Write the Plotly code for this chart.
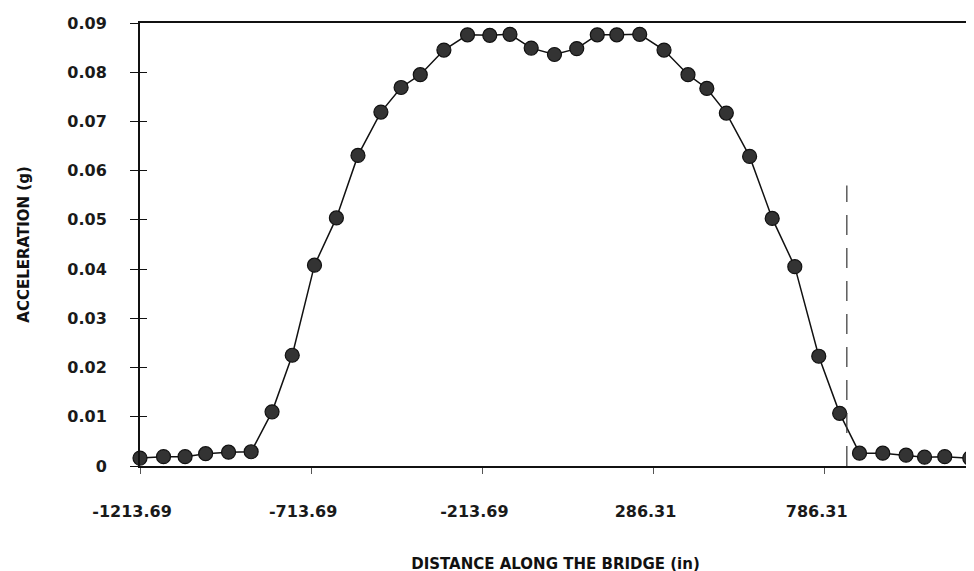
import plotly.graph_objects as go

# Data
x_dist = [-1213.69, -1145, -1082, -1022, -955, -889, -828, -769, -704, -640,
          -577, -510, -451, -395, -326, -257, -192, -133, -71, -3,
          62, 122, 179, 246, 317, 387, 442, 499, 567, 633,
          699, 769, 830, 888, 956, 1024, 1078, 1137, 1210]
accel = [0.0016, 0.0019, 0.0019, 0.0025, 0.0028, 0.0029, 0.0110, 0.0225, 0.0408, 0.0504,
         0.0631, 0.0719, 0.0769, 0.0795, 0.0845, 0.0876, 0.0875, 0.0877, 0.0849, 0.0836,
         0.0848, 0.0876, 0.0876, 0.0877, 0.0845, 0.0795, 0.0767, 0.0717, 0.0629, 0.0503,
         0.0405, 0.0223, 0.0107, 0.0026, 0.0026, 0.0022, 0.0018, 0.0019, 0.0016]

x_tick_vals = [-1213.69, -713.69, -213.69, 286.31, 786.31]
x_tick_text = ["-1213.69", "-713.69", "-213.69", "286.31", "786.31"]
y_tick_vals = [0, 0.01, 0.02, 0.03, 0.04, 0.05, 0.06, 0.07, 0.08, 0.09]
y_tick_text = ["0", "0.01", "0.02", "0.03", "0.04", "0.05", "0.06", "0.07", "0.08", "0.09"]

marker_x = [851, 851]
marker_y = [0, 0.057]

x_range = [-1213.69, 1213.69]
y_range = [0, 0.09]

FONT = "DejaVu Sans"

fig = go.Figure()

fig.add_trace(go.Scatter(
    x=marker_x, y=marker_y, mode="lines",
    line=dict(color="#333333", width=1.2, dash="20px,13px"),
    xaxis="x", yaxis="y2", showlegend=False, hoverinfo="skip",
))

fig.add_trace(go.Scatter(
    x=x_dist, y=accel, mode="lines+markers",
    line=dict(color="#111111", width=1.5),
    marker=dict(size=14, color="#333333", line=dict(color="#111111", width=1.2)),
    cliponaxis=False, showlegend=False,
))

fig.update_layout(
    width=974, height=571,
    margin=dict(l=132, r=11, t=15, b=113),
    paper_bgcolor="white", plot_bgcolor="white",
    font=dict(family=FONT, color="#111111"),
    xaxis=dict(
        range=x_range, tickvals=x_tick_vals, ticktext=x_tick_text,
        showgrid=False, zeroline=False, automargin=False,
        showline=True, linecolor="#111111", linewidth=2, mirror=True,
        ticks="outside", ticklen=6, tickwidth=1, tickcolor="#555555",
        tickfont=dict(family=FONT, size=16, color="#1a1a1a", weight="bold"),
        ticklabelshift=-8, ticklabelstandoff=24,
        title=dict(text="<b>DISTANCE ALONG THE BRIDGE (in)</b>",
                   font=dict(family=FONT, size=15, color="#111111"), standoff=38),
    ),
    yaxis=dict(
        range=y_range, tickvals=y_tick_vals, ticktext=y_tick_text,
        showgrid=False, zeroline=False, automargin=False,
        showline=True, linecolor="#111111", linewidth=2, mirror=True,
        ticks="outside", ticklen=8, tickwidth=1, tickcolor="#111111",
        tickfont=dict(family=FONT, size=16, color="#1a1a1a", weight="bold"),
        ticklabelstandoff=20,
        title=dict(text="<b>ACCELERATION (g)</b>",
                   font=dict(family=FONT, size=15, color="#111111"), standoff=34),
    ),
    yaxis2=dict(
        range=y_range, overlaying="y", side="left", tickvals=y_tick_vals,
        showticklabels=False, showgrid=False, zeroline=False, showline=False,
        automargin=False,
        ticks="inside", ticklen=7, tickwidth=1, tickcolor="#111111",
    ),
)

fig.write_html("out.html")
